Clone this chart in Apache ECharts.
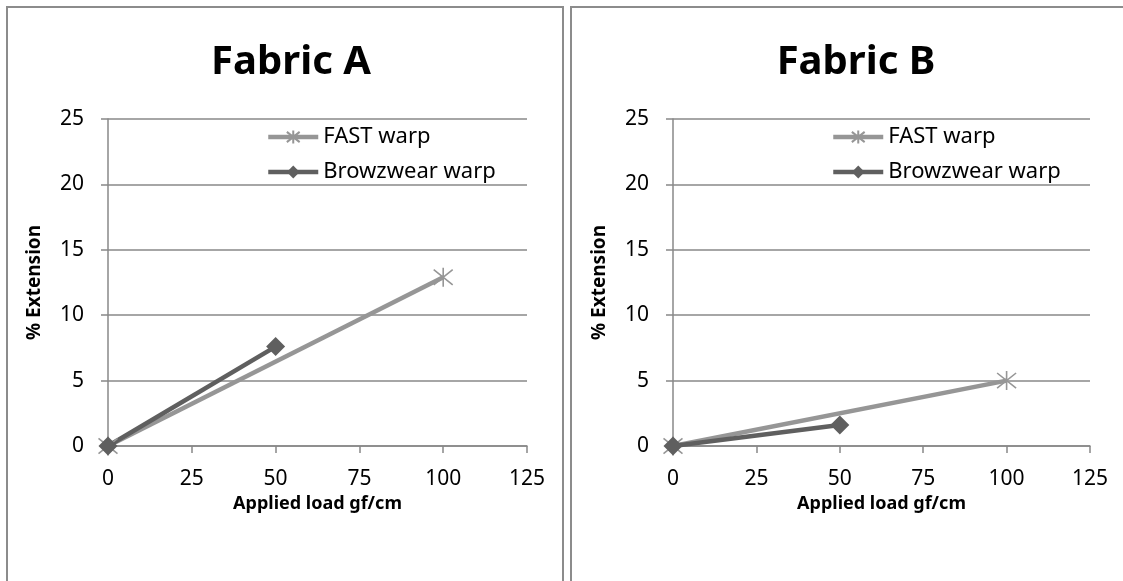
<!DOCTYPE html>
<html>
<head>
<meta charset="utf-8">
<script src="https://cdn.jsdelivr.net/npm/echarts@6/dist/echarts.min.js"></script>
<style>html,body{margin:0;padding:0;background:#fff}#c{width:1123px;height:581px}</style>
</head>
<body>
<div id="c"></div>
<script>
var panelTitles = ['Fabric A', 'Fabric B'];
var xTicks = [0, 25, 50, 75, 100, 125];
var yTicks = [0, 5, 10, 15, 20, 25];
var seriesNames = ['FAST warp', 'Browzwear warp'];
var fastA = [[0, 0], [100, 12.9]];
var browA = [[0, 0], [50, 7.6]];
var fastB = [[0, 0], [100, 5.0]];
var browB = [[0, 0], [50, 1.6]];

var FONT = 'Noto Sans';
var lightGray = '#969696';
var darkGray = '#5f5f5f';
var gridColor = '#888888';
var starPath = 'path://M1,1L9,9M9,1L1,9M5,0L5,10';

function xAxis(i) {
  return {
    gridIndex: i, type: 'value', min: xTicks[0], max: xTicks[xTicks.length - 1], interval: 25,
    name: 'Applied load gf/cm', nameLocation: 'middle', nameGap: 44,
    nameTextStyle: {fontFamily: FONT, fontWeight: 'bold', fontSize: 18, color: '#000'},
    axisLine: {lineStyle: {color: gridColor, width: 1.5}},
    axisTick: {show: true, inside: false, length: 7, lineStyle: {color: gridColor, width: 1.5}},
    axisLabel: {fontFamily: FONT, fontSize: 21, color: '#000', margin: 23},
    splitLine: {show: false}
  };
}
function yAxis(i) {
  return {
    gridIndex: i, type: 'value', min: yTicks[0], max: yTicks[yTicks.length - 1], interval: 5,
    name: '% Extension', nameLocation: 'middle', nameGap: 64,
    nameTextStyle: {fontFamily: FONT, fontWeight: 'bold', fontSize: 19, color: '#000'},
    axisLine: {show: true, lineStyle: {color: gridColor, width: 1.5}},
    axisTick: {show: true, inside: false, length: 7, lineStyle: {color: gridColor, width: 1.5}},
    axisLabel: {fontFamily: FONT, fontSize: 21, color: '#000', margin: 24},
    splitLine: {show: true, lineStyle: {color: gridColor, width: 1.5}}
  };
}
function fastSeries(i, data) {
  return {
    name: seriesNames[0], type: 'line', xAxisIndex: i, yAxisIndex: i, data: data,
    symbol: starPath, symbolSize: 19, showAllSymbol: true,
    lineStyle: {color: lightGray, width: 4.5},
    itemStyle: {color: lightGray, borderColor: lightGray, borderWidth: 1.6},
    emphasis: {disabled: true}, animation: false
  };
}
function browSeries(i, data) {
  return {
    name: seriesNames[1], type: 'line', xAxisIndex: i, yAxisIndex: i, data: data,
    symbol: 'diamond', symbolSize: 19,
    lineStyle: {color: darkGray, width: 4.5},
    itemStyle: {color: darkGray, borderColor: darkGray, borderWidth: 0},
    emphasis: {disabled: true}, animation: false
  };
}
function legend(left) {
  return {
    data: seriesNames, orient: 'vertical', left: left, top: 126, padding: 0,
    itemWidth: 50, itemHeight: 16, itemGap: 13,
    selectedMode: false,
    lineStyle: {width: 4.5},
    textStyle: {fontFamily: FONT, fontSize: 22, color: '#000'}
  };
}

var chart = echarts.init(document.getElementById('c'));
chart.setOption({
  animation: false,
  backgroundColor: '#fff',
  title: [
    {text: panelTitles[0], left: 286, top: 38, textAlign: 'center',
     textStyle: {fontFamily: FONT, fontWeight: 'bold', fontSize: 40, color: '#000'}},
    {text: panelTitles[1], left: 851, top: 38, textAlign: 'center',
     textStyle: {fontFamily: FONT, fontWeight: 'bold', fontSize: 40, color: '#000'}}
  ],
  legend: [legend(266), legend(831)],
  grid: [
    {left: 108, right: 596, top: 119, bottom: 135},
    {left: 673, right: 33, top: 119, bottom: 135}
  ],
  xAxis: [xAxis(0), xAxis(1)],
  yAxis: [yAxis(0), yAxis(1)],
  series: [fastSeries(0, fastA), browSeries(0, browA), fastSeries(1, fastB), browSeries(1, browB)],
  graphic: [
    {type: 'rect', shape: {x: 7, y: 7, width: 556, height: 590}, style: {fill: 'none', stroke: '#8c8c8c', lineWidth: 2}, silent: true},
    {type: 'rect', shape: {x: 571, y: 7, width: 570, height: 590}, style: {fill: 'none', stroke: '#8c8c8c', lineWidth: 2}, silent: true}
  ]
});
</script>
</body>
</html>
